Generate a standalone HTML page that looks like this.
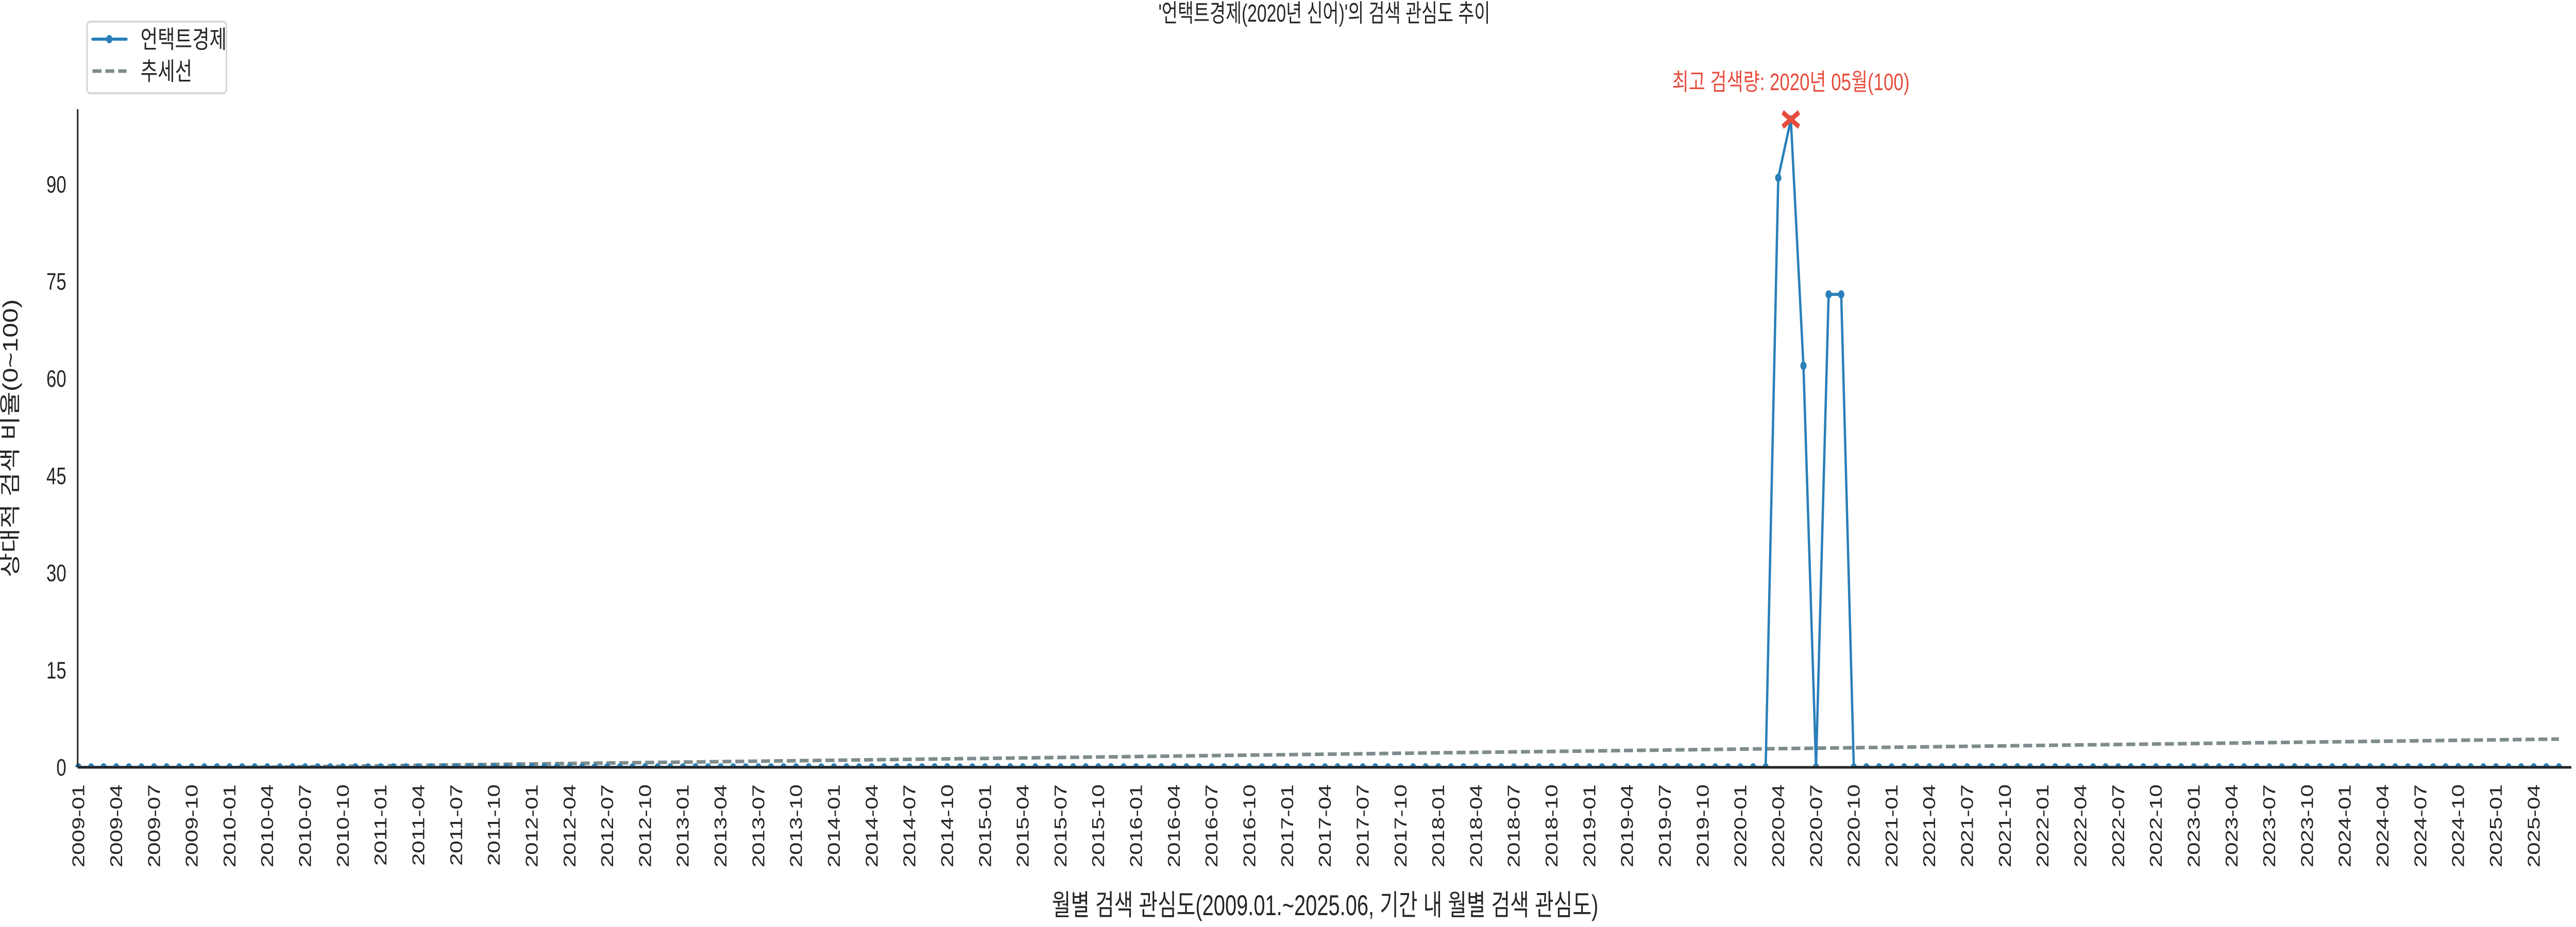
<!DOCTYPE html>
<html><head><meta charset="utf-8"><style>
html,body{margin:0;padding:0;background:#fff;overflow:hidden;width:100%;height:100%;}
svg{display:block;width:100vw;height:100vh;}
text{font-family:"Liberation Sans","Noto Sans CJK KR",sans-serif;fill:#262626;}
</style></head><body>
<svg id="chart" viewBox="0 0 6600 1800" preserveAspectRatio="none" xmlns="http://www.w3.org/2000/svg">
<defs><clipPath id="plotclip"><rect x="150" y="150" width="6440" height="1340"/></clipPath></defs>
<text x="3393" y="42" font-size="48" text-anchor="middle" textLength="850" lengthAdjust="spacingAndGlyphs">'언택트경제(2020년 신어)'의 검색 관심도 추이</text>
<g id="series" clip-path="url(#plotclip)"></g>
<line x1="199" y1="212" x2="199" y2="1490" stroke="#262626" stroke-width="4"/>
<line x1="199" y1="1490" x2="6588" y2="1490" stroke="#262626" stroke-width="5"/>
<g id="yticks"></g>
<g id="xticks"></g>
<g id="annot"></g>
<text transform="translate(45,851) rotate(-90)" font-size="54" text-anchor="middle" textLength="540" lengthAdjust="spacingAndGlyphs">상대적 검색 비율(0~100)</text>
<text x="3395" y="1777" font-size="56" text-anchor="middle" textLength="1400" lengthAdjust="spacingAndGlyphs">월별 검색 관심도(2009.01.~2025.06, 기간 내 월별 검색 관심도)</text>
<g>
<rect x="223" y="42" width="357" height="139" rx="8" fill="#fff" stroke="#d6d6d6" stroke-width="4"/>
<g>
<line x1="237" y1="76" x2="324" y2="76" stroke="#2980b9" stroke-width="6" stroke-linecap="round"/>
<circle cx="280" cy="76" r="8" fill="#2980b9"/>
<text x="360" y="93" font-size="48">언택트경제</text></g>
<g>
<line x1="237" y1="138" x2="324" y2="138" stroke="#7f8c8d" stroke-width="7" stroke-dasharray="23 10"/>
<text x="360" y="155" font-size="48">추세선</text></g>
</g>
</svg>
<script>
const startYear = 2009;
const monthCount = 198;
const spikeMonths = ["2020-04","2020-05","2020-06","2020-07","2020-08","2020-09"];
const spikeValues = [91, 100, 62, 0, 73, 73];
const yTicks = [0, 15, 30, 45, 60, 75, 90];

const NS = "http://www.w3.org/2000/svg";
const X0 = 201, DX = 32.26, Y0 = 1490, DY = 12.58;
const xs = i => X0 + i * DX;
const ys = v => Y0 - v * DY;
function mk(tag, attrs, parent){const e=document.createElementNS(NS,tag);for(const k in attrs)e.setAttribute(k,attrs[k]);parent.appendChild(e);return e;}

const labels = [];
for (let i=0;i<monthCount;i++){const y=startYear+Math.floor(i/12),m=i%12+1;labels.push(y+"-"+String(m).padStart(2,"0"));}
const values = labels.map(l => {const k=spikeMonths.indexOf(l);return k>=0?spikeValues[k]:0;});

const series = document.getElementById("series");
const n=values.length, mx=(n-1)/2, my=values.reduce((a,b)=>a+b,0)/n;
let sxy=0,sxx=0; values.forEach((v,i)=>{sxy+=(i-mx)*(v-my);sxx+=(i-mx)*(i-mx);});
const slope=sxy/sxx, icpt=my-slope*mx;
const trend = mk("line",{x1:xs(0),y1:ys(icpt),x2:xs(n-1),y2:ys(icpt+slope*(n-1)),stroke:"#7f8c8d","stroke-width":7,"stroke-dasharray":"23 10"},series);


const line = mk("polyline",{points:values.map((v,i)=>xs(i)+","+ys(v)).join(" "),fill:"none",stroke:"#2980b9","stroke-width":6,"stroke-linejoin":"round"},series);


values.forEach((v,i)=>{
  const c = mk("circle",{cx:xs(i),cy:ys(v),r:8,fill:"#2980b9"},series);
  
  
});

const yt = document.getElementById("yticks");
yTicks.forEach(t=>{
  const e = mk("text",{x:170,y:ys(t)+16,"font-size":46,"text-anchor":"end"},yt);
  e.textContent=t;
  
  
});

const xt = document.getElementById("xticks");
labels.forEach((l,i)=>{
  if(i%3!==0) return;
  const e = mk("text",{transform:`translate(${xs(i)+15},1523) rotate(-90)`,"font-size":44,"text-anchor":"end"},xt);
  e.textContent=l;
  
  
});

let pi=0; values.forEach((v,i)=>{if(v>values[pi])pi=i;});
const an = document.getElementById("annot");
const px=xs(pi), py=ys(values[pi]);
const mark = mk("path",{d:`M${px-21},${py-14}L${px+21},${py+14}M${px-21},${py+14}L${px+21},${py-14}`,stroke:"#e74c3c","stroke-width":10},an);


const [py1,pm1]=labels[pi].split("-");
const at = mk("text",{x:px,y:175,"font-size":46,"text-anchor":"middle",fill:"#e74c3c",style:"fill:#e74c3c"},an);
at.textContent=`최고 검색량: ${py1}년 ${pm1}월(${values[pi]})`;


</script>
</body></html>
